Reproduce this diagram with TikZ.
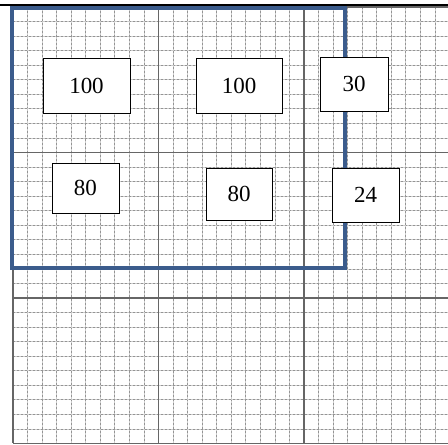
\documentclass[tikz,border=0pt]{standalone}
\usepackage{fontspec}
\setmainfont{Liberation Serif}
\begin{document}
\begin{tikzpicture}[x=1pt,y=-1pt,
  minorbase/.style={draw=black!20,line width=0.8pt},
  minorline/.style={draw=black!42,line width=0.8pt,dash pattern=on 2pt off 2pt},
  majorline/.style={draw=black!60,line width=1.5pt},
  numbox/.style={draw=black,line width=0.9pt,fill=white,inner sep=0pt,
    font=\fontsize{23}{23}\selectfont},
  blueframe/.style={draw={rgb,255:red,59;green,92;blue,140},line width=4.5pt},
  topline/.style={draw=black,line width=1.5pt}]
\useasboundingbox (0,0) rectangle (448,445);
\fill[white] (0,0) rectangle (448,445);
\begin{scope}
\clip (0,0) rectangle (448,445);
% minor grid
\foreach \gi in {0,...,30}{
  \pgfmathsetmacro{\gx}{13+\gi*14.55}
  \pgfmathsetmacro{\gy}{7+\gi*14.55}
  \draw[minorbase] (\gx,7) -- (\gx,443);
  \draw[minorbase] (13,\gy) -- (449,\gy);
  \draw[minorline] (\gx,7) -- (\gx,443);
  \draw[minorline] (13,\gy) -- (449,\gy);
}
% major grid
\foreach \gj in {0,...,3}{
  \pgfmathsetmacro{\hx}{13+\gj*145.5}
  \pgfmathsetmacro{\hy}{7+\gj*145.5}
  \draw[majorline] (\hx,7) -- (\hx,443);
  \draw[majorline] (13,\hy) -- (449,\hy);
}
\end{scope}
% top black line
\coordinate (tl) at (0,5);
\coordinate (tr) at (448,5);
\draw[topline] (tl) -- (tr);
% blue frame
\draw[blueframe] (12,8) rectangle (345,268);
% number boxes
\node[numbox,minimum width=87pt,minimum height=55pt] (a1) at (86.5,85.5) {100};
\node[numbox,minimum width=86pt,minimum height=55pt] (a2) at (239,85.5) {100};
\node[numbox,minimum width=68pt,minimum height=54pt] (a3) at (354,84) {30};
\node[numbox,minimum width=67pt,minimum height=50pt] (b1) at (85.5,188) {80};
\node[numbox,minimum width=66pt,minimum height=52pt] (b2) at (239,194) {80};
\node[numbox,minimum width=67pt,minimum height=54pt] (b3) at (365.5,195) {24};
\end{tikzpicture}
\end{document}
